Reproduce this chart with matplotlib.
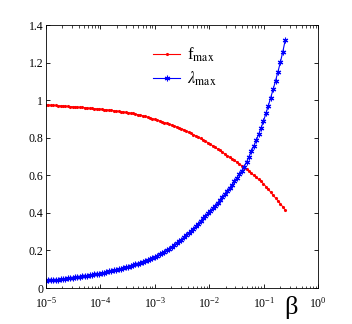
import matplotlib
matplotlib.use('Agg')
import matplotlib.pyplot as plt
import numpy as np
from matplotlib.ticker import FuncFormatter, LogLocator, NullFormatter

plt.rcParams['font.family'] = ['Liberation Serif', 'DejaVu Serif']
plt.rcParams['mathtext.fontset'] = 'stix'

# beta grid: 100 samples, log-spaced from 1e-5 to 0.25
beta = np.logspace(-5, np.log10(0.25), 100)

# f_max
f_max = [0.975, 0.974, 0.973, 0.972, 0.972, 0.971, 0.970, 0.969, 0.968, 0.967,
         0.966, 0.965, 0.964, 0.963, 0.962, 0.961, 0.960, 0.959, 0.957, 0.956,
         0.955, 0.954, 0.953, 0.952, 0.950, 0.949, 0.947, 0.946, 0.944, 0.942,
         0.941, 0.939, 0.937, 0.935, 0.934, 0.931, 0.929, 0.926, 0.923, 0.920,
         0.917, 0.913, 0.910, 0.906, 0.902, 0.898, 0.894, 0.890, 0.885, 0.881,
         0.877, 0.872, 0.868, 0.863, 0.858, 0.854, 0.849, 0.843, 0.836, 0.830,
         0.824, 0.817, 0.810, 0.803, 0.796, 0.789, 0.781, 0.774, 0.766, 0.757,
         0.749, 0.740, 0.732, 0.723, 0.714, 0.705, 0.696, 0.687, 0.679, 0.670,
         0.661, 0.651, 0.641, 0.631, 0.621, 0.610, 0.600, 0.589, 0.578, 0.567,
         0.555, 0.540, 0.525, 0.510, 0.494, 0.479, 0.464, 0.448, 0.432, 0.415]

# lambda_max
lam_max = [0.039, 0.040, 0.041, 0.042, 0.044, 0.045, 0.046, 0.048, 0.049, 0.051,
           0.053, 0.055, 0.056, 0.058, 0.060, 0.062, 0.064, 0.066, 0.068, 0.070,
           0.072, 0.075, 0.077, 0.080, 0.082, 0.085, 0.088, 0.091, 0.094, 0.097,
           0.100, 0.103, 0.107, 0.110, 0.114, 0.118, 0.122, 0.126, 0.130, 0.134,
           0.139, 0.143, 0.148, 0.154, 0.159, 0.165, 0.172, 0.179, 0.186, 0.194,
           0.202, 0.210, 0.219, 0.228, 0.238, 0.248, 0.258, 0.270, 0.281, 0.293,
           0.304, 0.316, 0.329, 0.342, 0.356, 0.370, 0.383, 0.397, 0.411, 0.425,
           0.439, 0.453, 0.468, 0.484, 0.500, 0.516, 0.533, 0.550, 0.567, 0.587,
           0.606, 0.625, 0.646, 0.671, 0.699, 0.727, 0.756, 0.786, 0.818, 0.852,
           0.889, 0.929, 0.971, 1.014, 1.058, 1.104, 1.152, 1.203, 1.258, 1.320]

y_ticks = [0, 0.2, 0.4, 0.6, 0.8, 1, 1.2, 1.4]

fig = plt.figure(figsize=(3.52, 3.24), dpi=100)
ax = fig.add_axes([0.1307, 0.1111, 0.7727, 0.8117])

ax.semilogx(beta, f_max, 'r.-', lw=0.8, ms=2.5, label=r'f$_{\mathrm{max}}$')
# matlab-style asterisk marker
ax.semilogx(beta, lam_max, color='b', marker=(6, 2, 0), ms=4, mew=0.8, lw=0.8,
            label=r'$\lambda_{\mathrm{max}}$')

ax.set_xlim(1e-5, 1)
ax.set_ylim(0, 1.4)
ax.set_yticks(y_ticks)
ax.yaxis.set_major_formatter(FuncFormatter(lambda v, p: '%g' % v))
ax.xaxis.set_major_locator(LogLocator(base=10, numticks=10))
ax.xaxis.set_minor_locator(LogLocator(base=10, subs=np.arange(2, 10), numticks=10))
ax.xaxis.set_minor_formatter(NullFormatter())

ax.tick_params(which='both', direction='in', top=True, right=True,
               labelsize=8.5)
ax.tick_params(axis='x', pad=6)
ax.tick_params(axis='y', pad=2)
ax.tick_params(which='major', length=3, width=0.6)
ax.tick_params(which='minor', length=1.8, width=0.5)
for s in ax.spines.values():
    s.set_linewidth(0.6)

ax.set_xlabel('β', fontsize=19)
ax.xaxis.set_label_coords(0.9, -0.03)

ax.legend(loc='upper left', bbox_to_anchor=(0.34, 0.978), frameon=False,
          fontsize=12, handlelength=1.6, labelspacing=0.35, handletextpad=0.4)

fig.savefig('out.png', dpi=100)
